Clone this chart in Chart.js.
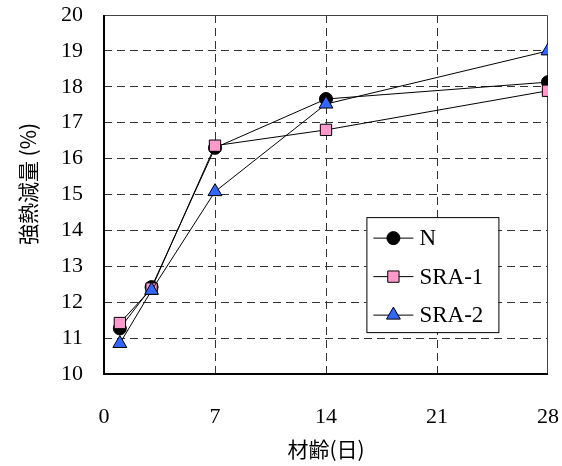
<!DOCTYPE html>
<html>
<head>
<meta charset="utf-8">
<script src="https://cdn.jsdelivr.net/npm/chart.js@4/dist/chart.umd.min.js"></script>
<style>
    html, body { margin: 0; padding: 0; background: #fff; overflow: hidden; }
    #wrap { width: 562px; height: 466px; }
</style>
</head>
<body>
<div id="wrap"><canvas id="lossChart"></canvas></div>
<script>
// material age (days) and ignition loss (%)
const days = [1, 3, 7, 14, 28];
const nValues = [11.27, 12.42, 16.3, 17.66, 18.13];
const sra1Values = [11.42, 12.38, 16.36, 16.8, 17.89];
const sra2Values = [10.85, 12.33, 15.08, 17.52, 19.0];
const seriesNames = ["N", "SRA-1", "SRA-2"];
const xTicks = [0, 7, 14, 21, 28];
const yTicks = [10, 11, 12, 13, 14, 15, 16, 17, 18, 19, 20];

const serif = "'Liberation Serif', 'Times New Roman', serif";
const cjk = "'Noto Sans CJK JP', 'Noto Sans CJK SC', sans-serif";

function toPoints(values) {
    return days.map((d, i) => ({ x: d, y: values[i] }));
}

// inner grid lines only, the frame is drawn separately
function gridColor(ticks) {
    return ctx => (ctx.tick && (ctx.tick.value === ticks[0] || ctx.tick.value === ticks[ticks.length - 1]))
        ? "rgba(0,0,0,0)" : "#333";
}

const framePlugin = {
    id: "frame",
    beforeDatasetsDraw(chart) {
        const { ctx, chartArea: a } = chart;
        ctx.save();
        ctx.setLineDash([]);
        ctx.strokeStyle = "#444";
        ctx.lineWidth = 1;
        ctx.beginPath();
        ctx.moveTo(a.left, a.top + 0.5);
        ctx.lineTo(a.right - 0.5, a.top + 0.5);
        ctx.lineTo(a.right - 0.5, a.bottom);
        ctx.stroke();
        ctx.strokeStyle = "#000";
        ctx.lineWidth = 2;
        ctx.beginPath();
        ctx.moveTo(a.left, a.top);
        ctx.lineTo(a.left, a.bottom);
        ctx.lineTo(a.right, a.bottom);
        ctx.stroke();
        ctx.restore();
    }
};

const legendPlugin = {
    id: "boxLegend",
    afterDatasetsDraw(chart) {
        const { ctx, chartArea: a } = chart;
        const w = a.right - a.left, h = a.bottom - a.top;
        const x0 = a.left + w * 0.591, y0 = a.top + h * 0.563;
        const bw = 132, bh = 115;
        ctx.save();
        ctx.fillStyle = "#fff";
        ctx.fillRect(x0, y0, bw, bh);
        ctx.strokeStyle = "#000";
        ctx.lineWidth = 1;
        ctx.strokeRect(x0 + 0.5, y0 + 0.5, bw, bh);
        chart.data.datasets.forEach((ds, i) => {
            const cy = y0 + 21 + i * 38.5;
            ctx.strokeStyle = "#000";
            ctx.lineWidth = 1;
            ctx.beginPath();
            ctx.moveTo(x0 + 7, cy);
            ctx.lineTo(x0 + 47, cy);
            ctx.stroke();
            ctx.fillStyle = ds.pointBackgroundColor;
            Chart.helpers.drawPoint(ctx, {
                pointStyle: ds.pointStyle,
                radius: ds.pointRadius,
                borderWidth: 1
            }, x0 + 27, cy);
            ctx.fillStyle = "#000";
            ctx.font = "23px " + serif;
            ctx.textBaseline = "middle";
            ctx.fillText(ds.label, x0 + 53, cy + 1);
        });
        ctx.restore();
    }
};

const ctx = document.getElementById("lossChart").getContext("2d");

const lineStyle = {
    borderColor: "#000",
    borderWidth: 1,
    pointBorderColor: "#000",
    pointBorderWidth: 1,
    tension: 0,
    fill: false
};

// later series sit on top of earlier ones (lower order = drawn last)
new Chart(ctx, {
    type: "line",
    data: {
        datasets: [
            Object.assign({ label: seriesNames[0], data: toPoints(nValues), order: 3,
                pointStyle: "circle", pointRadius: 6.5, pointBackgroundColor: "#000" }, lineStyle),
            Object.assign({ label: seriesNames[1], data: toPoints(sra1Values), order: 2,
                pointStyle: "rect", pointRadius: 8, pointBackgroundColor: "#ff99cc" }, lineStyle),
            Object.assign({ label: seriesNames[2], data: toPoints(sra2Values), order: 1,
                pointStyle: "triangle", pointRadius: 8, pointBackgroundColor: "#3366ff" }, lineStyle)
        ]
    },
    options: {
        responsive: true,
        maintainAspectRatio: false,
        animation: false,
        events: [],
        layout: { autoPadding: false, padding: { left: 0, right: 14, top: 15, bottom: 0 } },
        plugins: {
            legend: { display: false },
            tooltip: { enabled: false }
        },
        scales: {
            x: {
                type: "linear",
                min: xTicks[0],
                max: xTicks[xTicks.length - 1],
                afterBuildTicks: s => { s.ticks = xTicks.map(v => ({ value: v })); },
                afterFit: s => { s.height = 92; s.paddingLeft = 0; s.paddingRight = 0; },
                grid: { color: gridColor(xTicks), lineWidth: 1, drawTicks: false },
                border: { display: false, dash: [8, 5] },
                ticks: { padding: 30, color: "#000", font: { family: serif, size: 22 } },
                title: {
                    display: true,
                    text: "材齢(日)",
                    color: "#000",
                    font: { family: cjk, size: 21 },
                    padding: { top: 0, bottom: 4 }
                }
            },
            y: {
                min: yTicks[0],
                max: yTicks[yTicks.length - 1],
                afterBuildTicks: s => { s.ticks = yTicks.map(v => ({ value: v })); },
                afterFit: s => { s.width = 104; s.paddingTop = 0; s.paddingBottom = 0; },
                grid: { color: gridColor(yTicks), lineWidth: 1, drawTicks: false },
                border: { display: false, dash: [8, 5] },
                ticks: { padding: 21, color: "#000", font: { family: serif, size: 22 } },
                title: {
                    display: true,
                    // leading ideographic space nudges the label up a little, as in the original
                    text: "\u3000強熱減量 (%)",
                    color: "#000",
                    font: { family: cjk, size: 21 },
                    padding: { top: 15, bottom: 0 }
                }
            }
        }
    },
    plugins: [framePlugin, legendPlugin]
});
</script>
</body>
</html>
